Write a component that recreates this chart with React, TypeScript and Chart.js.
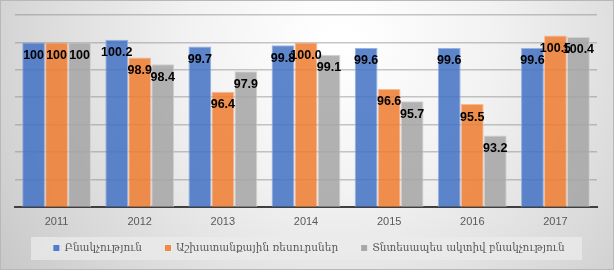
import React, { useEffect, useRef } from "react";
import { Chart, registerables } from "chart.js";

Chart.register(...registerables);

const years = ["2011", "2012", "2013", "2014", "2015", "2016", "2017"];
const population = [100, 100.2, 99.7, 99.8, 99.6, 99.6, 99.6];
const laborResources = [100, 98.9, 96.4, 100.0, 96.6, 95.5, 100.5];
const activePopulation = [100, 98.4, 97.9, 99.1, 95.7, 93.2, 100.4];
const labelTexts = [
  ["100", "100.2", "99.7", "99.8", "99.6", "99.6", "99.6"],
  ["100", "98.9", "96.4", "100.0", "96.6", "95.5", "100.5"],
  ["100", "98.4", "97.9", "99.1", "95.7", "93.2", "100.4"],
];
const seriesNames = [
  "Բնակչություն",
  "Աշխատանքային ռեսուրսներ",
  "Տնտեսապես ակտիվ բնակչություն",
];
const solidColors = ["#4f7bd0", "#f08a45", "#a8a8a8"];

const bgPlugin = {
  id: "bg",
  beforeDraw(chart: any) {
    const { ctx, width, height } = chart;
    ctx.save();
    const g = ctx.createRadialGradient(340, 40, 10, 340, 40, 420);
    g.addColorStop(0, "#ffffff");
    g.addColorStop(0.35, "#f2f2f2");
    g.addColorStop(0.75, "#d8d8d8");
    g.addColorStop(1, "#c6c6c6");
    ctx.fillStyle = g;
    ctx.fillRect(0, 0, width, height);
    ctx.strokeStyle = "#b8b8b8";
    ctx.lineWidth = 2;
    ctx.strokeRect(0, 0, width, height);
    ctx.restore();
  },
};

const labelsPlugin = {
  id: "vlabels",
  afterDatasetsDraw(chart: any) {
    const { ctx } = chart;
    ctx.save();
    ctx.font = "bold 12.5px 'Liberation Sans', Arial, sans-serif";
    ctx.fillStyle = "#000";
    ctx.textAlign = "center";
    ctx.textBaseline = "middle";
    chart.data.datasets.forEach((ds: any, di: number) => {
      const meta = chart.getDatasetMeta(di);
      meta.data.forEach((bar: any, i: number) => {
        ctx.fillText(labelTexts[di][i], bar.x, bar.y + 13);
      });
    });
    ctx.restore();
  },
};

const legendPlugin = {
  id: "customLegend",
  afterDraw(chart: any) {
    const { ctx } = chart;
    ctx.save();
    ctx.fillStyle = "rgba(235,235,235,0.75)";
    ctx.fillRect(31, 237, 551, 23);
    ctx.font = "10.5px 'DejaVu Serif', serif";
    ctx.textBaseline = "middle";
    const gap = 23;
    const box = 6;
    const boxGap = 5;
    const widths = seriesNames.map((n) => ctx.measureText(n).width);
    const total =
      widths.reduce((a, b) => a + b, 0) + 3 * (box + boxGap) + 2 * gap;
    let x = 309 - total / 2;
    const y = 248;
    seriesNames.forEach((n, i) => {
      ctx.fillStyle = solidColors[i];
      ctx.fillRect(x, y - box / 2, box, box);
      x += box + boxGap;
      ctx.fillStyle = "#595959";
      ctx.fillText(n, x, y);
      x += widths[i] + gap;
    });
    ctx.restore();
  },
};

export default function App() {
  const ref = useRef<HTMLCanvasElement | null>(null);
  useEffect(() => {
    document.body.style.margin = "0";
    const chart = new Chart(ref.current as HTMLCanvasElement, {
      type: "bar",
      data: {
        labels: years,
        datasets: [
          {
            label: seriesNames[0],
            data: population,
            backgroundColor: "rgba(68,114,196,0.86)",
            borderColor: "rgba(140,170,225,0.9)",
            borderWidth: 1,
          },
          {
            label: seriesNames[1],
            data: laborResources,
            backgroundColor: "rgba(237,125,49,0.86)",
            borderColor: "rgba(248,180,140,0.9)",
            borderWidth: 1,
          },
          {
            label: seriesNames[2],
            data: activePopulation,
            backgroundColor: "rgba(165,165,165,0.86)",
            borderColor: "rgba(205,205,205,0.9)",
            borderWidth: 1,
          },
        ],
      },
      options: {
        responsive: false,
        animation: false,
        layout: { padding: { left: 15, right: 17, top: 15, bottom: 32 } },
        plugins: { legend: { display: false }, tooltip: { enabled: false } },
        datasets: { bar: { categoryPercentage: 0.83, barPercentage: 0.99 } },
        scales: {
          x: {
            grid: { display: false, drawTicks: false },
            border: { display: true, color: "#3f3f3f", width: 2 },
            ticks: {
              color: "#595959",
              font: { family: "'Liberation Sans', Arial, sans-serif", size: 11 },
              padding: 9,
            },
          },
          y: {
            min: 88,
            max: 102,
            ticks: { display: false, stepSize: 2 },
            grid: { color: "rgba(130,130,130,0.45)", lineWidth: 1.5, drawTicks: false },
            border: { display: false },
          },
        },
      },
      plugins: [bgPlugin, labelsPlugin, legendPlugin],
    });
    return () => chart.destroy();
  }, []);
  return <canvas ref={ref} width={614} height={270} style={{ display: "block" }} />;
}
